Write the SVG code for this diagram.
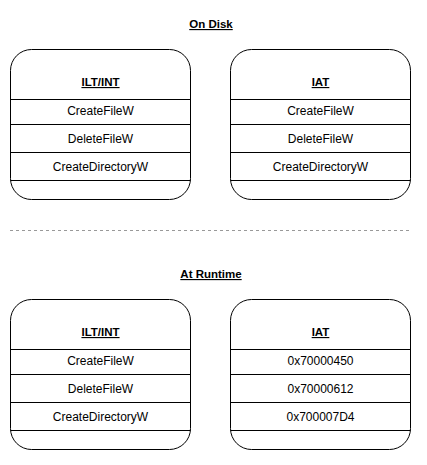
<svg xmlns="http://www.w3.org/2000/svg" width="427" height="465" viewBox="0 0 427 465">
<style>
.box{fill:#fff;stroke:#000;stroke-width:1}
.sep{stroke:#000;stroke-width:1}
.t{font-family:"Liberation Sans",Arial,sans-serif;font-size:12px;fill:#000;text-anchor:middle}
.h{font-family:"Liberation Sans",Arial,sans-serif;font-size:11.5px;font-weight:bold;fill:#000;text-anchor:middle;text-decoration:underline}
</style>
<rect width="427" height="465" fill="#fff"/>
<text class="h" x="211" y="28">On Disk</text>
<text class="h" x="211" y="278">At Runtime</text>
<g id="connectors">
<line x1="10" y1="230.5" x2="410" y2="230.5" stroke="#999" stroke-width="1" stroke-dasharray="3 3"/>
</g>
<g id="disk-ilt">
<rect class="box" x="10.5" y="49.5" width="180" height="150" rx="21" ry="21"/>
<line class="sep" x1="10.5" y1="99.5" x2="190.5" y2="99.5"/>
<line class="sep" x1="10.5" y1="124.5" x2="190.5" y2="124.5"/>
<line class="sep" x1="10.5" y1="152.5" x2="190.5" y2="152.5"/>
<line class="sep" x1="10.5" y1="180.5" x2="190.5" y2="180.5"/>
<text class="h" x="100.5" y="86">ILT/INT</text>
<text class="t" x="100.5" y="114.5">CreateFileW</text>
<text class="t" x="100.5" y="142.5">DeleteFileW</text>
<text class="t" x="100.5" y="171">CreateDirectoryW</text>
</g>
<g id="disk-iat">
<rect class="box" x="230.5" y="49.5" width="180" height="150" rx="21" ry="21"/>
<line class="sep" x1="230.5" y1="99.5" x2="410.5" y2="99.5"/>
<line class="sep" x1="230.5" y1="124.5" x2="410.5" y2="124.5"/>
<line class="sep" x1="230.5" y1="152.5" x2="410.5" y2="152.5"/>
<line class="sep" x1="230.5" y1="180.5" x2="410.5" y2="180.5"/>
<text class="h" x="320.5" y="86">IAT</text>
<text class="t" x="320.5" y="114.5">CreateFileW</text>
<text class="t" x="320.5" y="142.5">DeleteFileW</text>
<text class="t" x="320.5" y="171">CreateDirectoryW</text>
</g>
<g id="runtime-ilt">
<rect class="box" x="10.5" y="299.5" width="180" height="150" rx="21" ry="21"/>
<line class="sep" x1="10.5" y1="349.5" x2="190.5" y2="349.5"/>
<line class="sep" x1="10.5" y1="374.5" x2="190.5" y2="374.5"/>
<line class="sep" x1="10.5" y1="402.5" x2="190.5" y2="402.5"/>
<line class="sep" x1="10.5" y1="430.5" x2="190.5" y2="430.5"/>
<text class="h" x="100.5" y="336">ILT/INT</text>
<text class="t" x="100.5" y="364.5">CreateFileW</text>
<text class="t" x="100.5" y="392.5">DeleteFileW</text>
<text class="t" x="100.5" y="421">CreateDirectoryW</text>
</g>
<g id="runtime-iat">
<rect class="box" x="230.5" y="299.5" width="180" height="150" rx="21" ry="21"/>
<line class="sep" x1="230.5" y1="349.5" x2="410.5" y2="349.5"/>
<line class="sep" x1="230.5" y1="374.5" x2="410.5" y2="374.5"/>
<line class="sep" x1="230.5" y1="402.5" x2="410.5" y2="402.5"/>
<line class="sep" x1="230.5" y1="430.5" x2="410.5" y2="430.5"/>
<text class="h" x="320.5" y="336">IAT</text>
<text class="t" x="320.5" y="364.5">0x70000450</text>
<text class="t" x="320.5" y="392.5">0x70000612</text>
<text class="t" x="320.5" y="421">0x700007D4</text>
</g>
</svg>
